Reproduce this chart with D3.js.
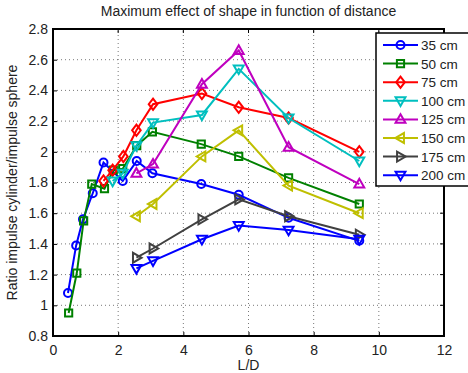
<!DOCTYPE html>
<html>
<head>
<meta charset="utf-8">
<title>Maximum effect of shape in function of distance</title>
<script src="https://d3js.org/d3.v7.min.js"></script>
<style>
  body { margin: 0; background: #fff; }
  svg { display: block; font-family: "Liberation Sans", Arial, sans-serif; }
  .tick text { fill: #222; font-size: 14px; }
</style>
</head>
<body>
<div id="chart"></div>
<script>
// series labels and colours
const labels = ["35 cm", "50 cm", "75 cm", "100 cm", "125 cm", "150 cm", "175 cm", "200 cm"];
const colors = ["#0000ff", "#008000", "#ff0000", "#00bfbf", "#bf00bf", "#bfbf00", "#404040", "#0000ff"];
const markers = ["circle", "square", "diamond", "down", "up", "left", "right", "down"];

// L/D values
const x35 = [0.46, 0.71, 0.92, 1.22, 1.55, 2.14, 2.57, 3.05, 4.55, 5.7, 7.23, 9.4];
const x50 = [0.48, 0.73, 0.94, 1.19, 1.58, 1.85, 2.14, 2.57, 3.05, 4.55, 5.7, 7.23, 9.4];
const x75 = [1.55, 1.83, 2.16, 2.56, 3.07, 4.57, 5.7, 7.23, 9.4];
const x100 = [1.83, 2.14, 2.56, 3.07, 4.57, 5.7, 7.23, 9.4];
const xFar = [2.56, 3.07, 4.57, 5.7, 7.23, 9.4];

// ratio impulse cylinder / impulse sphere
const y35 = [1.08, 1.39, 1.56, 1.73, 1.93, 1.81, 1.94, 1.86, 1.79, 1.72, 1.57, 1.42];
const y50 = [0.95, 1.21, 1.55, 1.79, 1.76, 1.88, 1.89, 2.04, 2.13, 2.05, 1.97, 1.83, 1.66];
const y75 = [1.81, 1.88, 1.97, 2.14, 2.31, 2.38, 2.29, 2.22, 2.0];
const y100 = [1.81, 1.86, 2.04, 2.19, 2.24, 2.54, 2.22, 1.94];
const y125 = [1.86, 1.92, 2.44, 2.66, 2.03, 1.79];
const y150 = [1.58, 1.66, 1.97, 2.14, 1.78, 1.60];
const y175 = [1.31, 1.37, 1.56, 1.69, 1.58, 1.46];
const y200 = [1.24, 1.29, 1.43, 1.52, 1.49, 1.43];

const xTicks = [0, 2, 4, 6, 8, 10, 12];
const yTicks = [0.8, 1, 1.2, 1.4, 1.6, 1.8, 2, 2.2, 2.4, 2.6, 2.8];

const xs = [x35, x50, x75, x100, xFar, xFar, xFar, xFar];
const ys = [y35, y50, y75, y100, y125, y150, y175, y200];

const width = 468, height = 373;
const margin = { left: 53, right: 24, top: 29, bottom: 37 };

const svg = d3.select("#chart").append("svg")
  .attr("width", width)
  .attr("height", height);

const x = d3.scaleLinear().domain([0, 12]).range([margin.left, width - margin.right]);
const y = d3.scaleLinear().domain([0.8, 2.8]).range([height - margin.bottom, margin.top]);

// dotted grid
const grid = svg.append("g");
grid.selectAll(".gx").data(xTicks.slice(1, -1)).enter().append("line")
  .attr("x1", d => x(d)).attr("x2", d => x(d))
  .attr("y1", y(0.8)).attr("y2", y(2.8))
  .attr("stroke", "#555").attr("stroke-width", 0.8).attr("stroke-dasharray", "1,3");
grid.selectAll(".gy").data(yTicks.slice(1, -1)).enter().append("line")
  .attr("x1", x(0)).attr("x2", x(12))
  .attr("y1", d => y(d)).attr("y2", d => y(d))
  .attr("stroke", "#555").attr("stroke-width", 0.8).attr("stroke-dasharray", "1,3");

// axes, MATLAB style ticks pointing inward
const xAxis = svg.append("g")
  .attr("transform", `translate(0,${y(0.8)})`)
  .call(d3.axisBottom(x).tickValues(xTicks).tickSize(-4).tickPadding(9).tickFormat(d3.format("d")));
const yAxis = svg.append("g")
  .attr("transform", `translate(${x(0)},0)`)
  .call(d3.axisLeft(y).tickValues(yTicks).tickSize(-4).tickPadding(5).tickFormat(d => String(+d.toFixed(1))));
[xAxis, yAxis].forEach(a => {
  a.select(".domain").remove();
  a.selectAll(".tick line").attr("stroke", "#000");
});

// top / right ticks
svg.append("g").selectAll("line").data(xTicks).enter().append("line")
  .attr("x1", d => x(d)).attr("x2", d => x(d))
  .attr("y1", y(2.8)).attr("y2", y(2.8) + 4).attr("stroke", "#000");
svg.append("g").selectAll("line").data(yTicks).enter().append("line")
  .attr("x1", x(12)).attr("x2", x(12) - 4)
  .attr("y1", d => y(d)).attr("y2", d => y(d)).attr("stroke", "#000");

// box
svg.append("rect")
  .attr("x", x(0)).attr("y", y(2.8))
  .attr("width", x(12) - x(0)).attr("height", y(0.8) - y(2.8))
  .attr("fill", "none").attr("stroke", "#000").attr("stroke-width", 2);

function markerPath(type, s) {
  switch (type) {
    case "square": return `M${-s},${-s}H${s}V${s}H${-s}Z`;
    case "diamond": return `M0,${-s * 1.3}L${s},0L0,${s * 1.3}L${-s},0Z`;
    case "down": return `M${-s * 1.15},${-s * 0.8}H${s * 1.15}L0,${s * 1.2}Z`;
    case "up": return `M${-s * 1.15},${s * 0.8}H${s * 1.15}L0,${-s * 1.2}Z`;
    case "left": return `M${s * 0.8},${-s * 1.15}V${s * 1.15}L${-s * 1.2},0Z`;
    case "right": return `M${-s * 0.8},${-s * 1.15}V${s * 1.15}L${s * 1.2},0Z`;
    default: return null;
  }
}

function drawMarker(g, type, color) {
  if (type === "circle") {
    g.append("circle").attr("r", 4).attr("fill", "none")
      .attr("stroke", color).attr("stroke-width", 2);
  } else {
    g.append("path").attr("d", markerPath(type, type === "square" ? 3.6 : 4.3))
      .attr("fill", "none").attr("stroke", color).attr("stroke-width", 2)
      .attr("stroke-linejoin", "miter");
  }
}

const line = d3.line().x(d => x(d[0])).y(d => y(d[1]));

const plot = svg.append("g");
labels.forEach((lab, i) => {
  const pts = xs[i].map((v, j) => [v, ys[i][j]]);
  plot.append("path")
    .attr("d", line(pts))
    .attr("fill", "none")
    .attr("stroke", colors[i])
    .attr("stroke-width", 2);
  pts.forEach(p => {
    const g = plot.append("g").attr("transform", `translate(${x(p[0])},${y(p[1])})`);
    drawMarker(g, markers[i], colors[i]);
  });
});

// title and axis labels
svg.append("text")
  .attr("x", (x(0) + x(12)) / 2).attr("y", 16)
  .attr("text-anchor", "middle")
  .attr("font-size", 14).attr("fill", "#222")
  .text("Maximum effect of shape in function of distance");

svg.append("text")
  .attr("x", (x(0) + x(12)) / 2).attr("y", 370)
  .attr("text-anchor", "middle")
  .attr("font-size", 14).attr("fill", "#222")
  .text("L/D");

svg.append("text")
  .attr("transform", `translate(17,${(y(0.8) + y(2.8)) / 2}) rotate(-90)`)
  .attr("text-anchor", "middle")
  .attr("font-size", 14).attr("fill", "#222")
  .text("Ratio impulse cylinder/impulse sphere");

// legend (box runs past the right edge like the original)
const legend = svg.append("g").attr("transform", "translate(376,33)");
legend.append("rect")
  .attr("width", 110).attr("height", 153)
  .attr("fill", "#fff").attr("stroke", "#000").attr("stroke-width", 1.5);
labels.forEach((lab, i) => {
  const row = legend.append("g").attr("transform", `translate(0,${12 + i * 18.6})`);
  row.append("line").attr("x1", 7).attr("x2", 42)
    .attr("stroke", colors[i]).attr("stroke-width", 2);
  drawMarker(row.append("g").attr("transform", "translate(24.5,0)"), markers[i], colors[i]);
  row.append("text").attr("x", 45).attr("y", 5)
    .attr("font-size", 13.5).attr("fill", "#222").text(lab);
});
</script>
</body>
</html>
